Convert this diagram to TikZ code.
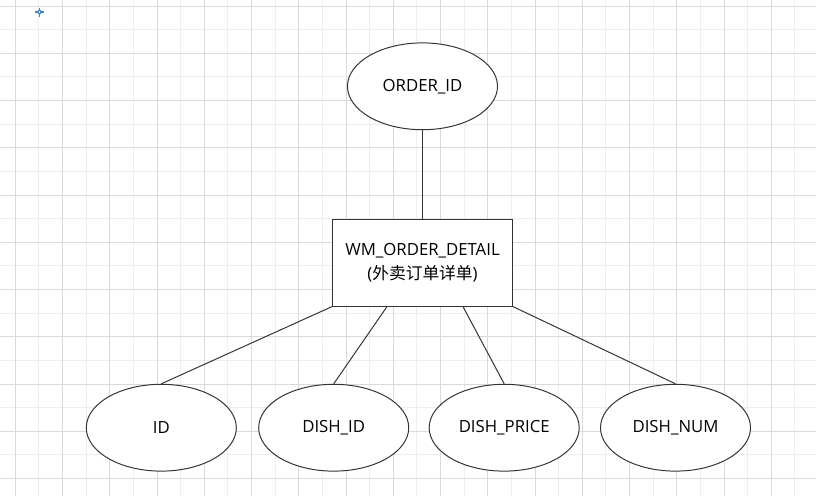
\documentclass[tikz,border=0pt]{standalone}
\usepackage{fontspec}
\setmainfont{Open Sans}
\newfontfamily\cjk{Noto Sans CJK SC}
\usetikzlibrary{shapes.geometric,calc}
\definecolor{gridD}{HTML}{DADADA}
\definecolor{gridL}{HTML}{EEEEEE}
\definecolor{edgeC}{HTML}{333333}
\definecolor{markB}{HTML}{3E82DC}

\begin{document}
\begin{tikzpicture}[
      x=0.025cm, y=-0.025cm,
      font=\fontsize{11.9}{16.6}\selectfont,
      attr/.style={ellipse, draw=edgeC, line width=0.7pt, fill=white,
                   minimum width=3.75cm, minimum height=2.17cm, inner sep=0pt},
      ent/.style={draw=edgeC, line width=0.7pt, fill=white, align=center,
                  minimum width=4.5cm, minimum height=2.17cm, inner sep=0pt},
      conn/.style={draw=edgeC, line width=0.7pt},
      gridlt/.style={draw=gridL, line width=0.7pt},
      griddk/.style={draw=gridD, line width=0.7pt}
    ]
    \useasboundingbox[fill=white] (0,0) rectangle (816,496);
    % ------------- grid -------------
    \foreach \k in {1,3,...,33} {
      \pgfmathsetmacro\gx{15.3+23.625*\k}
      \draw[gridlt] (\gx,0) -- (\gx,496);
    }
    \foreach \k in {1,3,...,19} {
      \pgfmathsetmacro\gy{6+23.625*\k}
      \draw[gridlt] (0,\gy) -- (816,\gy);
    }
    \foreach \k in {0,2,...,32} {
      \pgfmathsetmacro\gx{15.3+23.625*\k}
      \draw[griddk] (\gx,0) -- (\gx,496);
    }
    \foreach \k in {0,2,...,20} {
      \pgfmathsetmacro\gy{6+23.625*\k}
      \draw[griddk] (0,\gy) -- (816,\gy);
    }
    % ------------- marker -------------
    \draw[markB, line width=0.8pt] (35,12) -- (44,12) (39.5,8) -- (39.5,16.7);
    \draw[markB, line width=0.7pt, fill=white] (38.2,10.7) rectangle (40.8,13.3);
    % ------------- entity -------------
    \node[ent] (detail) at (422.5,262.7) {WM\_ORDER\_DETAIL\\({\cjk 外卖订单详单})};
    \node[attr] (orderid) at (422.5,86.3) {ORDER\_ID};
    % ------------- attributes -------------
    \node[attr] (id) at (161.3,427.7) {ID};
    \node[attr] (dishid) at (333.7,427.7) {DISH\_ID};
    \node[attr] (dishprice) at (504.2,427.7) {DISH\_PRICE};
    \node[attr] (dishnum) at (675.5,427.7) {DISH\_NUM};
    \coordinate (d2) at ($(detail.south west)+(55,0)$);
    \coordinate (d3) at ($(detail.south west)+(131,0)$);
    % ------------- links -------------
    \draw[conn] (orderid) -- (detail);
    \draw[conn] (detail.south west) -- (id.north);
    \draw[conn] (d2) -- (dishid.north);
    \draw[conn] (d3) -- (dishprice.north);
    \draw[conn] (detail.south east) -- (dishnum.north);
  \end{tikzpicture}
\end{document}
